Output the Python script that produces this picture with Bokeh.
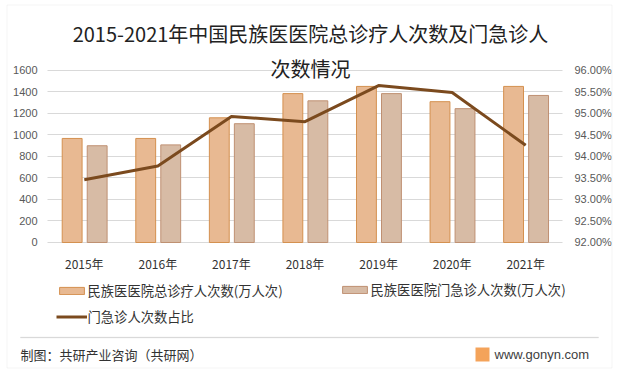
from bokeh.plotting import figure
from bokeh.models import (Range1d, LinearAxis, FixedTicker, NumeralTickFormatter, Legend, LegendItem,
                          Label, BoxAnnotation)
from bokeh.embed import file_html
from bokeh.resources import INLINE

years = ["2015年", "2016年", "2017年", "2018年", "2019年", "2020年", "2021年"]
total_visits = [968, 968, 1160, 1385, 1452, 1310, 1452]
emergency_visits = [900, 908, 1105, 1318, 1385, 1245, 1368]
emergency_share = [0.9346, 0.9378, 0.9493, 0.9481, 0.9565, 0.9549, 0.9426]
left_ticks = [0, 200, 400, 600, 800, 1000, 1200, 1400, 1600]
right_ticks = [0.92, 0.925, 0.93, 0.935, 0.94, 0.945, 0.95, 0.955, 0.96]

CJK = "Noto Sans CJK SC"
W, H = 618, 374
xs = list(range(len(years)))

# frame covers the whole canvas; plot region is x -0.5..6.5, y 0..1600
p = figure(width=W, height=H, output_backend="svg", toolbar_location=None,
           x_range=Range1d(-1.1389, 7.2612), y_range=Range1d(-1227.91, 2251.16),
           min_border=0)
p.outline_line_color = None
p.background_fill_color = "white"
p.border_fill_color = "white"
p.xgrid.grid_line_color = None
p.ygrid.grid_line_color = "#d9d9d9"
p.ygrid.ticker = FixedTicker(ticks=left_ticks)
try:
    p.ygrid[0].cross_bounds = (-0.5, 6.5)
    grid_ok = True
except Exception:
    grid_ok = False
if not grid_ok:
    p.ygrid.grid_line_color = None
    p.segment(x0=[-0.5] * len(left_ticks), x1=[6.5] * len(left_ticks), y0=left_ticks, y1=left_ticks,
              line_color="#d9d9d9", line_width=1)

p.extra_y_ranges = {"pct": Range1d(0.889302, 0.976279)}

def style_axis(ax, standoff, font, size, color):
    ax.axis_line_color = None
    ax.major_tick_line_color = None
    ax.minor_tick_line_color = None
    ax.major_tick_out = 0
    ax.major_tick_in = 0
    ax.major_label_standoff = standoff
    ax.major_label_text_font = font
    ax.major_label_text_font_size = size
    ax.major_label_text_color = color

ya = p.yaxis[0]
ya.ticker = FixedTicker(ticks=left_ticks)
ya.fixed_location = -0.5
style_axis(ya, 10, "Liberation Sans", "11px", "#595959")

ra = LinearAxis(y_range_name="pct", ticker=FixedTicker(ticks=right_ticks),
                formatter=NumeralTickFormatter(format="0.00%"), fixed_location=6.5)
style_axis(ra, 12, "Liberation Sans", "11px", "#595959")
p.add_layout(ra, "right")

xa = p.xaxis[0]
xa.ticker = FixedTicker(ticks=xs)
xa.major_label_overrides = {i: y for i, y in zip(xs, years)}
xa.fixed_location = 0
style_axis(xa, 13, CJK, "12px", "#333333")

r1 = p.vbar(x=[x - 0.165 for x in xs], top=total_visits, width=0.27,
            fill_color="#E8B992", line_color="#D4904F", line_width=1)
r2 = p.vbar(x=[x + 0.175 for x in xs], top=emergency_visits, width=0.27,
            fill_color="#D7BBA5", line_color="#BF9072", line_width=1)
r3 = p.line(x=xs, y=emergency_share, y_range_name="pct", line_color="#7B4A1E",
            line_width=3, line_join="round")

def mk_legend(items, loc):
    lg = Legend(items=items, location=loc, orientation="vertical")
    lg.padding = 0
    lg.margin = 0
    lg.spacing = 7
    lg.border_line_color = None
    lg.background_fill_alpha = 0
    lg.glyph_width = 31
    lg.glyph_height = 9
    lg.label_standoff = 1
    lg.label_text_font = CJK
    lg.label_text_font_size = "13.3px"
    lg.label_text_color = "#333333"
    return lg

legA = mk_legend([LegendItem(label="民族医医院总诊疗人次数(万人次)", renderers=[r1]),
                  LegendItem(label="门急诊人次数占比", renderers=[r3])], (55.5, 48))
legB = mk_legend([LegendItem(label="民族医医院门急诊人次数(万人次)", renderers=[r2])], (338.5, 75))
p.add_layout(legA, "center")
p.add_layout(legB, "center")

def scr_label(x, y, text, align, font, size, color):
    p.add_layout(Label(x=x, y=y, x_units="screen", y_units="screen", text=text,
                       text_align=align, text_baseline="middle", text_font=font,
                       text_font_size=size, text_color=color))

def scr_box(l, r, t, b, fill, line):
    p.add_layout(BoxAnnotation(left=l, right=r, top=t, bottom=b, left_units="screen",
                               right_units="screen", top_units="screen", bottom_units="screen",
                               fill_color=fill if fill else "white", fill_alpha=1 if fill else 0,
                               line_color=line, line_width=1))

# title
scr_label(310, 341, "2015-2021年中国民族医医院总诊疗人次数及门急诊人", "center", CJK, "20px", "#222222")
scr_label(310, 306, "次数情况", "center", CJK, "20px", "#222222")

# footer
scr_box(20, 598, 37.5, 36.5, "#d9d9d9", "#d9d9d9")
scr_label(20, 20, "制图：共研产业咨询（共研网）", "left", CJK, "13px", "#333333")
scr_box(475, 489, 27, 13, "#F4A35A", None)
scr_label(494, 20, "www.gonyn.com", "left", "Liberation Sans", "13px", "#404040")

# outer border
scr_box(6.5, 611.5, 369.5, 6.5, None, "#d9d9d9")

open("out.html", "w").write(file_html(p, INLINE))
